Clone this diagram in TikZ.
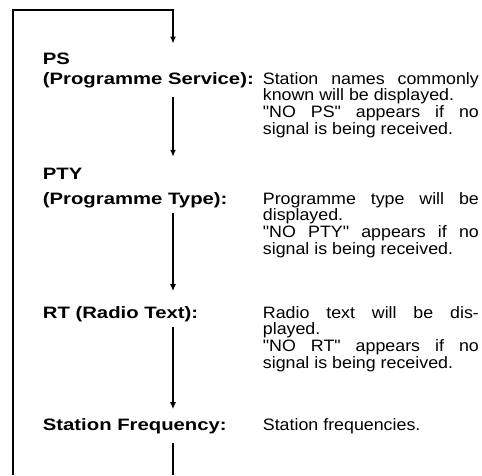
\documentclass[tikz,border=0pt]{standalone}
\usepackage{fontspec}
\setmainfont{Liberation Sans}[Ligatures=TeXOff,FakeStretch=1.08,BoldFeatures={FakeStretch=1.23}]
\usetikzlibrary{arrows.meta, positioning}

\begin{document}
\begin{tikzpicture}[x=1pt,y=-1pt,>={Latex[length=7pt,width=6pt]},line width=1.8pt,
    lbl/.style={anchor=base west,inner sep=0pt,align=left,
      font=\fontsize{16.5}{20}\selectfont\bfseries},
    desc/.style={anchor=base west,inner sep=0pt,text width=216pt,align=justify,
      font=\fontsize{16.5}{16.7}\selectfont},
    flow/.style={->}]
    \useasboundingbox (0,0) rectangle (482,475);

    % labels on the left (base = last line)
    \node[lbl] (ps)  at (42,84)  {PS\\(Programme Service):};
    \node[lbl] (pty) at (42,204) {PTY\\[5pt](Programme Type):};
    \node[lbl] (rt)  at (42,318) {RT (Radio Text):};
    \node[lbl] (sf)  at (42,430) {Station Frequency:};

    % what each one shows
    \node[desc] (psd)  at (262,84)  {Station names commonly\linebreak known will be displayed.\newline "NO PS" appears if no\linebreak signal is being received.};
    \node[desc] (ptyd) at (262,204) {Programme type will be\linebreak displayed.\newline "NO PTY" appears if no\linebreak signal is being received.};
    \node[desc] (rtd)  at (262,318) {Radio text will be dis-\linebreak played.\newline "NO RT" appears if no\linebreak signal is being received.};
    \node[desc] (sfd)  at (262,430) {Station frequencies.};

    % loop back to the top
    \coordinate (col) at (173,0);
    \coordinate (tl) at (13,10);
    \coordinate (tr) at (173,10);
    \coordinate (bl) at (13,475);
    \coordinate (br) at (173,475);

    \draw[->,shorten >=8pt] (bl) -- (tl) -- (tr) -- (tr |- ps.north);
    \draw[flow,shorten <=9pt,shorten >=10pt] (col |- ps.south) -- (col |- pty.north);
    \draw[flow,shorten <=5pt,shorten >=14pt] (col |- pty.south) -- (col |- rt.north);
    \draw[flow,shorten <=5pt,shorten >=8pt] (col |- rt.south) -- (col |- sf.north);
    \draw[shorten <=9pt] (col |- sf.south) -- (br);
\end{tikzpicture}
\end{document}
